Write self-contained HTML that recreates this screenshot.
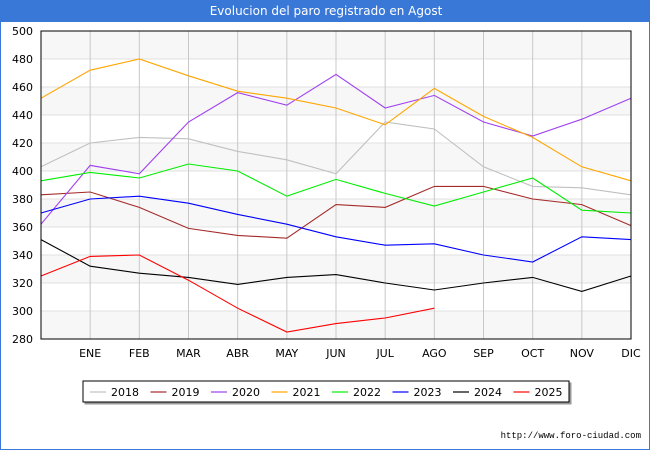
<!DOCTYPE html>
<html><head><meta charset="utf-8"><style>
body{margin:0;background:#fff;font-family:"DejaVu Sans","Liberation Sans",sans-serif;}
#wrap{position:relative;width:650px;height:450px;overflow:hidden;border:1px solid #3a78d8;box-sizing:border-box}
#title{position:absolute;left:0;top:0;width:650px;height:21px;background:#3a78d8;color:#fff;font-size:12px;text-align:center;line-height:21px}
</style></head><body>
<div id="wrap">
<div id="title">Evolucion del paro registrado en Agost</div>
<svg id="svg" width="650" height="450" style="position:absolute;left:0;top:0"></svg>
</div>
<script>
const months=["","ENE","FEB","MAR","ABR","MAY","JUN","JUL","AGO","SEP","OCT","NOV","DIC"];
const yTicks=[280,300,320,340,360,380,400,420,440,460,480,500];
const seriesNames=["2018","2019","2020","2021","2022","2023","2024","2025"];
const seriesColors=["#c0c0c0","#a52a2a","#a040f0","#ffa500","#00ee00","#0000ff","#000000","#ff0000"];
const s2018=[403,420,424,423,414,408,398,435,430,403,389,388,383];
const s2019=[383,385,374,359,354,352,376,374,389,389,380,376,361];
const s2020=[362,404,398,435,456,447,469,445,454,435,425,437,452];
const s2021=[452,472,480,468,457,452,445,433,459,439,424,403,393];
const s2022=[393,399,395,405,400,382,394,384,375,385,395,372,370];
const s2023=[370,380,382,377,369,362,353,347,348,340,335,353,351];
const s2024=[351,332,327,324,319,324,326,320,315,320,324,314,325];
const s2025=[325,339,340,322,302,285,291,295,302];
const allSeries=[s2018,s2019,s2020,s2021,s2022,s2023,s2024,s2025];
const L=40,R=630,T=30,B=338,ymin=280,ymax=500;
const xs=i=>L+i*(R-L)/12;
const ys=v=>B-(v-ymin)*(B-T)/(ymax-ymin);
const NS="http://www.w3.org/2000/svg";
const svg=document.getElementById('svg');
function mk(t,a){const e=document.createElementNS(NS,t);for(const k in a)e.setAttribute(k,a[k]);svg.appendChild(e);return e;}
for(let i=0;i<yTicks.length-1;i++){
 if(i%2==0){const r=mk('rect',{x:L,y:ys(yTicks[i+1]),width:R-L,height:ys(yTicks[i])-ys(yTicks[i+1]),fill:'#f7f7f7'});
 
 }
}
yTicks.forEach(v=>{
 const l=mk('line',{x1:L,x2:R,y1:ys(v),y2:ys(v),stroke:'#e0e0e0'});
 
 
 const t=mk('text',{x:L-8,y:ys(v)+4,'text-anchor':'end','font-size':11,fill:'#000'});t.textContent=v;
 
 
});
months.forEach((m,i)=>{
 if(i==0)return;
 const l=mk('line',{x1:xs(i),x2:xs(i),y1:T,y2:B,stroke:'#c8c8c8'});
 
 
 const t=mk('text',{x:xs(i),y:356,'text-anchor':'middle','font-size':11,fill:'#000'});t.textContent=m;
 
 
});
allSeries.forEach((s,k)=>{
 const p=mk('polyline',{points:s.map((v,i)=>xs(i)+','+ys(v)).join(' '),fill:'none',stroke:seriesColors[k],'stroke-width':1.1});
 
 
});
const fr=mk('rect',{x:L,y:T,width:R-L,height:B-T,fill:'none',stroke:'#000'});


const lg=mk('rect',{x:82,y:380,width:486,height:21,fill:'#fff',stroke:'#000',style:'filter:drop-shadow(2px 2px 0 #999)'});


seriesNames.forEach((n,k)=>{
 const x0=89+k*60.5;
 const l=mk('line',{x1:x0,x2:x0+16,y1:391,y2:391,stroke:seriesColors[k],'stroke-width':1.2});
 
 
 const t=mk('text',{x:x0+21,y:395,'font-size':11,fill:'#000'});t.textContent=n;
 
 
});
const w=mk('text',{x:640,y:437,'text-anchor':'end','font-size':9,fill:'#000','font-family':'Liberation Mono, monospace'});w.textContent='http://www.foro-ciudad.com';


</script>
</body></html>
